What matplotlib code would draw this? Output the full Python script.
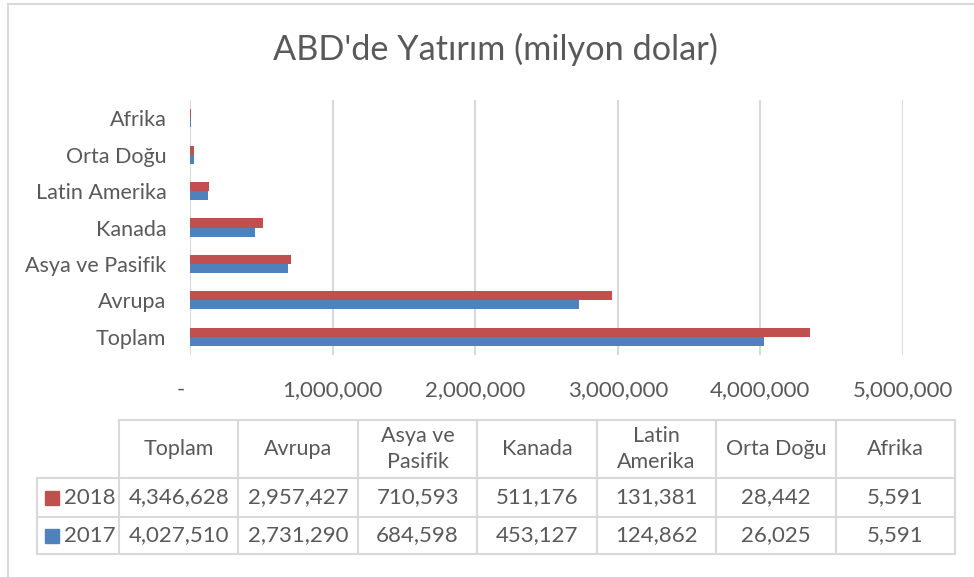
import matplotlib
matplotlib.use('Agg')
import matplotlib.pyplot as plt
import numpy as np

# Veriler (milyon dolar)
kategoriler = ['Toplam', 'Avrupa', 'Asya ve Pasifik', 'Kanada', 'Latin Amerika', 'Orta Doğu', 'Afrika']
tablo_basliklari = ['Toplam', 'Avrupa', 'Asya ve\nPasifik', 'Kanada', 'Latin\nAmerika', 'Orta Doğu', 'Afrika']
yillar = ['2018', '2017']
degerler_2018 = [4346628, 2957427, 710593, 511176, 131381, 28442, 5591]
degerler_2017 = [4027510, 2731290, 684598, 453127, 124862, 26025, 5591]
x_ticks = [0, 1000000, 2000000, 3000000, 4000000, 5000000]

W, H = 974, 577
renk_2018 = '#C0504D'
renk_2017 = '#4F81BD'
yazi_rengi = '#595959'
cizgi_rengi = '#D9D9D9'
plt.rcParams['font.family'] = ['Lato', 'DejaVu Sans']

fig = plt.figure(figsize=(W / 100, H / 100), dpi=100)

def fx(px):
    return px / W

def fy(py):
    return 1 - py / H

# cerceve
fig.add_artist(plt.Line2D([fx(8), fx(8)], [fy(4), fy(577)], color=cizgi_rengi, lw=1.5))
fig.add_artist(plt.Line2D([fx(8), fx(974)], [fy(4), fy(4)], color=cizgi_rengi, lw=1.5))

# baslik
fig.text(fx(495), fy(49), "ABD'de Yatırım (milyon dolar)", ha='center', va='center',
         fontsize=24.7, color=yazi_rengi)

# grafik alani
ax = fig.add_axes([fx(190), fy(355), fx(903) - fx(190), fy(100) - fy(355)])
y = np.arange(len(kategoriler))
h = 0.25
ax.barh(y + h / 2, degerler_2018, height=h, color=renk_2018, label='2018')
ax.barh(y - h / 2, degerler_2017, height=h, color=renk_2017, label='2017')
ax.set_ylim(-0.5, len(kategoriler) - 0.5)
ax.set_xlim(0, 5000000)
ax.set_yticks(y)
ax.set_yticklabels(kategoriler, fontsize=15.5, color=yazi_rengi)
ax.set_xticks(x_ticks)
ax.set_xticklabels(['-   '] + [f'{v:,}' for v in x_ticks[1:]], fontsize=16, color=yazi_rengi)
ax.tick_params(axis='both', length=0)
ax.tick_params(axis='y', pad=17)
ax.tick_params(axis='x', pad=18)
ax.grid(axis='x', color=cizgi_rengi, lw=1.5)
ax.set_axisbelow(True)
for s in ax.spines.values():
    s.set_visible(False)

# veri tablosu
sutunlar = [119 + i * (955 - 119) / 7 for i in range(8)]
satir_y = [420, 478, 517, 554]
# yatay cizgiler
fig.add_artist(plt.Line2D([fx(119), fx(955)], [fy(420), fy(420)], color=cizgi_rengi, lw=1.5))
for yy in satir_y[1:]:
    fig.add_artist(plt.Line2D([fx(37), fx(955)], [fy(yy), fy(yy)], color=cizgi_rengi, lw=1.5))
# dikey cizgiler
fig.add_artist(plt.Line2D([fx(37), fx(37)], [fy(478), fy(554)], color=cizgi_rengi, lw=1.5))
for xx in sutunlar:
    fig.add_artist(plt.Line2D([fx(xx), fx(xx)], [fy(420), fy(554)], color=cizgi_rengi, lw=1.5))

for i, baslik in enumerate(tablo_basliklari):
    xc = (sutunlar[i] + sutunlar[i + 1]) / 2
    fig.text(fx(xc), fy(449), baslik, ha='center', va='center', fontsize=15.5,
             color=yazi_rengi, linespacing=1.4)

for r, (yil, vals, renk) in enumerate(zip(yillar, [degerler_2018, degerler_2017], [renk_2018, renk_2017])):
    yc = (satir_y[r + 1] + satir_y[r + 2]) / 2
    fig.add_artist(plt.Rectangle((fx(45), fy(yc + 7)), fx(14), 14 / H, color=renk))
    fig.text(fx(64), fy(yc), yil, ha='left', va='center', fontsize=16, color=yazi_rengi)
    for i, v in enumerate(vals):
        xc = (sutunlar[i] + sutunlar[i + 1]) / 2
        fig.text(fx(xc), fy(yc), f'{v:,}', ha='center', va='center', fontsize=16, color=yazi_rengi)

fig.savefig('out.png', dpi=100)
